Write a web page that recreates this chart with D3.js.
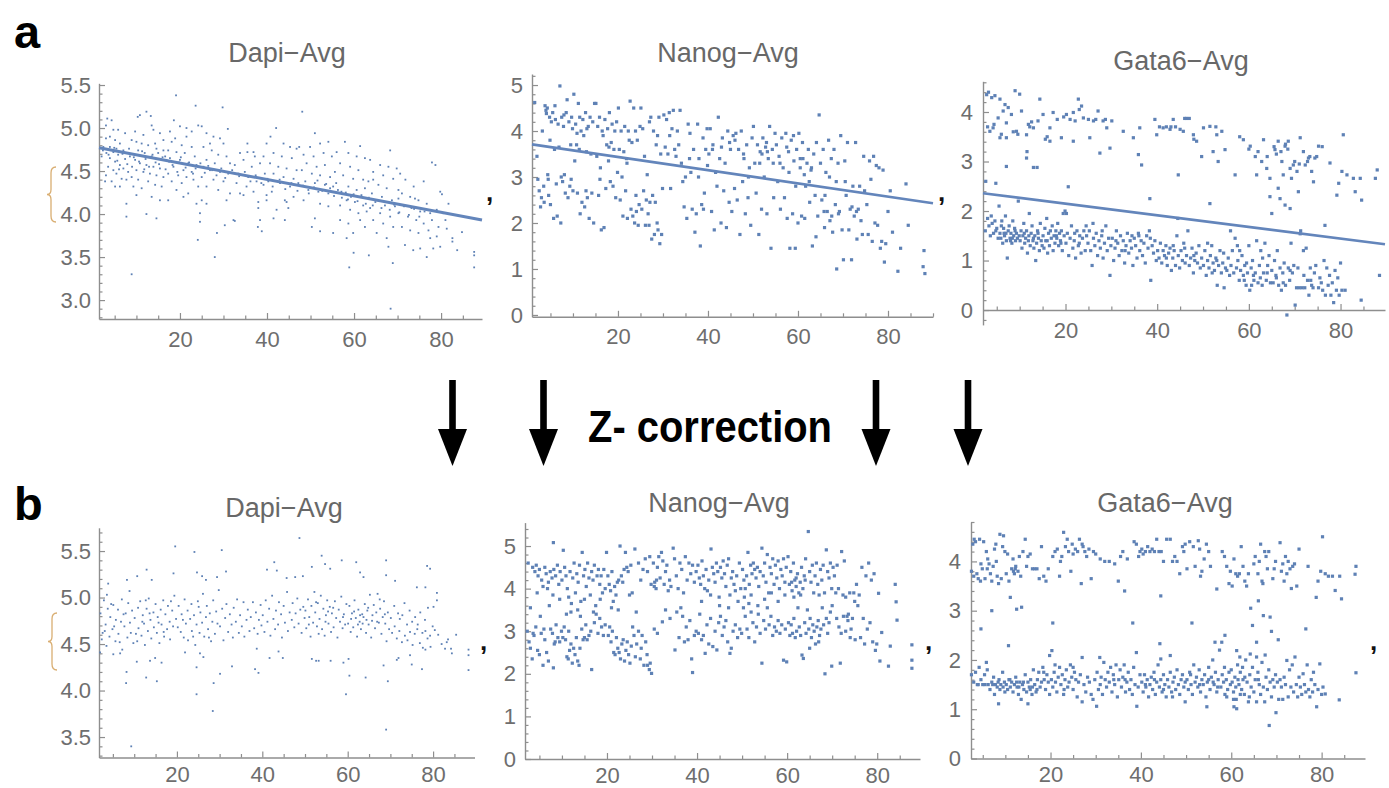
<!DOCTYPE html>
<html><head><meta charset="utf-8">
<script src="https://cdnjs.cloudflare.com/ajax/libs/d3/7.8.5/d3.min.js"></script>
<style>body{margin:0;background:#fff}svg{display:block;background:#fff}text{font-family:"Liberation Sans",Arial,sans-serif}</style>
</head><body><svg id="c" width="1389" height="788"></svg>
<script>
// ---------- DATA ----------
const panelTitles = ["Dapi\u2212Avg", "Nanog\u2212Avg", "Gata6\u2212Avg"];
const xTickValues = [20, 40, 60, 80];
const yTicksDapiBefore = [3.0, 3.5, 4.0, 4.5, 5.0, 5.5];
const yTicksDapiAfter = [3.5, 4.0, 4.5, 5.0, 5.5];
const yTicksNanog = [0, 1, 2, 3, 4, 5];
const yTicksGata6 = [0, 1, 2, 3, 4];

// linear fits (before correction): [x, y] at both ends
const dapiBeforeFit = [[1.4, 4.77], [89.4, 3.93]];
const nanogBeforeFit = [[0.9, 3.71], [90, 2.43]];
const gata6BeforeFit = [[2, 2.36], [89.7, 1.33]];

const dapiBeforePts = [
[3.3,5.11],[4.3,5.09],[3.0,5.03],[4.7,4.98],[5.8,4.98],[3.9,4.90],[3.0,4.88],[5.1,4.86],[6.2,4.82],[3.9,4.78],[2.4,4.78],[5.4,4.76],[7.0,4.74],[4.7,4.72],[3.1,4.71],[5.8,4.69],[2.0,4.67],[3.9,4.65],[7.4,4.64],[5.1,4.61],[6.2,4.57],[3.5,4.55],[4.7,4.51],[7.0,4.53],[5.4,4.47],[3.0,4.45],[8.1,4.49],[6.6,4.41],[4.3,4.38],[2.8,4.38],[5.1,4.32],[6.2,4.32],[7.7,4.40],[8.9,4.43],[7.7,4.12],[7.7,3.97],[8.9,3.30],[8.5,4.67],[7.4,4.94],[8.9,4.86],
[10.3,5.13],[10.8,5.15],[12.3,5.19],[13.3,5.14],[13.5,5.03],[9.7,4.96],[11.6,4.92],[13.9,4.98],[15.4,4.94],[16.2,4.86],[10.0,4.84],[11.2,4.82],[12.7,4.80],[14.3,4.82],[14.6,4.76],[10.4,4.74],[11.9,4.71],[13.5,4.67],[15.0,4.71],[16.6,4.67],[9.7,4.63],[10.8,4.59],[12.3,4.57],[13.9,4.55],[15.4,4.53],[10.0,4.51],[11.6,4.49],[13.1,4.47],[14.6,4.45],[16.2,4.43],[10.4,4.40],[12.7,4.38],[14.3,4.34],[9.3,4.32],[15.8,4.32],[10.0,4.22],[13.5,4.20],[15.4,4.16],[12.3,4.0],[14.6,3.95],[11.2,4.30],[16.2,4.74],[16.9,4.63],
[18.6,5.09],[20.0,5.02],[19.1,5.38],[24.2,5.03],[23.6,5.26],[21.5,4.90],[18.1,4.84],[20.4,4.80],[22.7,4.78],[17.3,4.74],[19.2,4.72],[21.1,4.71],[23.4,4.67],[17.7,4.65],[20.0,4.63],[21.9,4.59],[23.8,4.57],[18.5,4.55],[20.8,4.51],[22.7,4.49],[17.3,4.47],[19.6,4.45],[21.5,4.43],[24.2,4.55],[18.1,4.38],[20.4,4.36],[23.1,4.40],[19.2,4.28],[21.9,4.24],[24.2,4.32],[17.3,4.16],[20.8,4.20],[23.8,4.12],[22.7,4.96],[21.5,5.0],[17.7,4.96],[18.9,4.88],
[25.0,5.02],[29.8,5.24],[31.0,4.99],[26.1,4.94],[27.7,4.90],[29.2,4.88],[30.0,4.82],[25.4,4.78],[27.3,4.74],[28.8,4.69],[30.7,4.67],[26.1,4.63],[28.0,4.59],[31.5,4.59],[25.4,4.55],[26.9,4.51],[29.2,4.49],[31.1,4.47],[25.0,4.43],[27.7,4.40],[30.0,4.38],[26.1,4.32],[28.8,4.28],[31.5,4.24],[25.0,4.16],[26.1,4.12],[30.7,4.16],[24.6,4.01],[24.1,3.70],[28.0,3.50],[28.5,3.78],[24.6,3.91],[30.3,3.87],[32.3,3.93],[26.9,4.82],
[33.8,4.71],[35.5,4.82],[36.9,4.72],[39.2,4.67],[32.6,4.57],[34.6,4.63],[36.5,4.55],[38.4,4.59],[33.4,4.47],[35.7,4.43],[37.6,4.38],[39.5,4.47],[33.0,4.36],[35.3,4.32],[36.9,4.26],[39.2,4.34],[34.6,4.22],[38.0,4.14],[39.9,4.16],[33.8,4.24],[38.0,4.07],[38.4,3.93],[37.9,3.85],[38.8,3.80],[32.6,3.92],[35.5,4.72],[37.2,4.67],
[42.1,5.0],[40.8,4.90],[39.9,4.82],[43.8,4.82],[45.3,4.78],[46.8,4.76],[41.5,4.71],[43.4,4.67],[45.7,4.65],[40.7,4.59],[42.6,4.55],[44.5,4.53],[46.8,4.51],[41.5,4.47],[43.8,4.43],[46.1,4.41],[40.3,4.38],[43.0,4.36],[45.3,4.32],[47.2,4.36],[41.1,4.26],[44.1,4.16],[46.1,4.20],[44.5,4.14],[42.2,4.05],[44.9,4.07],[41.5,3.95],[44.1,3.93],[39.9,4.22],[47.4,4.78],
[48.1,5.19],[51.0,4.94],[49.9,4.78],[52.2,4.82],[54.1,4.84],[48.4,4.69],[50.7,4.67],[53.0,4.71],[54.9,4.67],[49.1,4.59],[51.4,4.55],[53.3,4.57],[48.0,4.51],[50.3,4.47],[52.2,4.45],[54.5,4.43],[48.8,4.38],[51.0,4.36],[53.3,4.34],[55.2,4.32],[49.5,4.28],[51.8,4.26],[54.1,4.24],[48.4,4.16],[52.2,4.12],[50.3,3.85],[52.2,3.80],[51.0,3.95],[55.2,3.78],[54.1,4.09],
[57.9,4.84],[61.4,4.79],[56.0,4.72],[58.7,4.71],[60.6,4.67],[62.5,4.65],[56.8,4.59],[59.1,4.55],[61.0,4.51],[55.6,4.49],[57.5,4.45],[59.8,4.41],[62.1,4.40],[55.9,4.36],[58.7,4.32],[60.6,4.28],[62.5,4.30],[57.1,4.26],[59.5,4.22],[61.4,4.20],[58.3,4.16],[60.2,4.14],[56.8,4.10],[62.1,4.10],[59.1,4.05],[61.0,4.01],[56.8,3.93],[58.7,3.89],[61.4,3.93],[62.5,3.85],[59.8,3.78],[58.3,3.72],[58.9,3.38],[59.9,3.55],[62.9,4.03],
[68.3,4.74],[63.7,4.63],[66.0,4.57],[67.9,4.55],[69.8,4.53],[64.4,4.49],[66.7,4.45],[69.0,4.41],[63.3,4.38],[65.6,4.34],[67.5,4.30],[70.2,4.28],[64.1,4.24],[66.4,4.20],[68.7,4.16],[64.9,4.14],[67.1,4.10],[69.4,4.09],[63.7,4.07],[66.0,4.01],[68.3,3.97],[70.2,4.01],[64.4,3.93],[66.7,3.89],[69.0,3.85],[65.2,3.78],[67.5,3.72],[67.9,3.62],[63.4,3.52],[68.9,3.43],[68.4,2.90],[70.2,4.18],[64.4,4.40],
[70.6,4.47],[71.8,4.40],[73.7,4.32],[76.0,4.38],[71.0,4.24],[72.9,4.20],[74.8,4.16],[76.7,4.12],[71.4,4.10],[73.2,4.07],[75.2,4.03],[77.5,4.01],[72.4,3.97],[74.3,3.93],[76.0,3.89],[77.9,3.93],[71.0,3.85],[72.9,3.81],[74.8,3.78],[77.1,3.81],[71.7,3.64],[73.6,3.58],[75.2,3.60],[76.7,3.50],[78.2,3.60],[77.9,4.60],[74.0,4.18],[77.5,3.72],
[78.7,4.57],[79.8,4.26],[80.2,4.23],[79.0,4.05],[80.5,4.01],[79.4,3.85],[81.3,3.83],[79.0,3.74],[79.8,3.62],[82.6,3.72],[82.6,3.68],[84.8,3.79],[83.7,3.58],[87.6,3.56],[87.6,3.52],[87.6,3.38],[81.7,4.12],[81.0,3.93],
[2.3,4.74],[3.6,4.69],[4.9,4.77],[5.6,4.62],[6.8,4.7],[7.9,4.58],[8.3,4.76],[9.4,4.66],[10.6,4.61],[11.3,4.73],[12.1,4.64],[12.9,4.55],[13.7,4.69],[14.4,4.6],[15.2,4.58],[16.0,4.66],[16.7,4.52],[17.5,4.61],[18.3,4.57],[19.4,4.49],[20.2,4.66],[21.3,4.54],[22.1,4.6],[23.0,4.47],[23.6,4.53],[24.7,4.59],[25.7,4.48],[26.5,4.56],[27.4,4.51],[28.4,4.45],[29.5,4.53],[30.4,4.42],[11.8,4.52],[9.0,4.55],[6.0,4.52],[19.8,4.6],
[32.0,4.51],[33.6,4.44],[34.9,4.49],[36.2,4.38],[37.4,4.45],[38.7,4.36],[40.1,4.41],[41.3,4.32],[42.9,4.4],[44.2,4.29],[45.6,4.36],[47.0,4.27],[48.3,4.33],[49.6,4.24],
[50.8,4.31],[51.6,4.39],[52.7,4.27],[53.6,4.35],[54.5,4.3],[55.4,4.21],[56.3,4.28],[57.2,4.19],[58.1,4.25],[58.6,4.17],[59.3,4.2],[59.9,4.23],[60.8,4.15],[61.7,4.22],[62.7,4.12],[63.4,4.19],[64.3,4.1],[65.4,4.16],[66.3,4.07],[67.3,4.14],[68.2,4.05],[69.2,4.11],[70.4,4.02],[71.5,4.09],[72.6,3.99],[73.8,4.06],[75.0,3.97],[76.2,4.03]
];

const nanogBeforePts = [
[1.5,4.62],[2.0,3.45],[2.2,2.95],[2.5,2.7],[2.8,2.35],[3.0,2.55],[3.2,4.0],[3.5,2.8],[3.8,4.55],[4.0,4.45],[4.1,4.38],[4.3,4.5],[4.5,2.95],[4.6,2.6],[4.8,4.3],[4.9,3.8],[5.0,2.4],[5.2,4.2],[4.4,3.05],[3.6,2.45],
[5.5,4.4],[5.7,2.1],[5.9,3.6],[6.1,4.25],[6.3,2.85],[6.5,2.15],[6.7,4.15],[6.9,3.65],[7.1,4.98],[7.3,2.0],[7.5,4.3],[7.7,2.9],[7.9,4.1],[8.1,3.05],[8.3,2.65],[8.5,4.4],[8.7,4.68],[8.9,2.55],[9.1,4.2],[9.3,2.8],[9.5,3.7],[9.7,4.3],[9.9,4.05],[10.0,2.7],[8.0,4.35],[6.0,4.55],[9.6,2.95],[7.4,3.0],
[10.2,4.8],[10.4,3.35],[10.6,4.15],[10.8,3.7],[11.0,2.65],[11.2,4.6],[11.4,3.6],[11.6,2.2],[11.8,4.0],[12.0,2.45],[12.2,4.25],[12.4,3.9],[12.6,2.35],[12.8,4.4],[13.0,3.55],[13.2,2.55],[13.4,4.1],[13.6,2.1],[13.8,4.3],[14.0,3.5],[14.2,2.65],[14.4,4.2],[14.6,2.0],[14.8,4.6],[11.5,4.3],[12.9,2.7],[10.9,3.95],[13.1,4.05],
[15.1,4.6],[15.3,3.45],[15.5,4.1],[15.7,2.6],[15.9,4.3],[16.1,3.2],[16.3,1.85],[16.5,4.0],[16.7,3.9],[16.9,1.9],[17.1,4.25],[17.3,2.75],[17.5,3.7],[17.7,4.05],[17.9,3.35],[18.1,4.4],[18.3,2.9],[18.5,3.75],[18.7,4.15],[18.9,2.8],[19.1,3.6],[19.3,4.0],[19.5,2.55],[19.7,4.2],[19.9,3.1],[16.0,2.95],[18.0,3.65],
[20.1,4.5],[20.3,3.6],[20.5,2.5],[20.7,4.0],[20.9,3.0],[21.1,2.15],[21.3,3.55],[21.5,4.1],[21.7,2.7],[21.9,3.4],[22.1,2.1],[22.3,4.0],[22.5,3.8],[22.7,4.65],[22.9,2.3],[23.1,3.75],[23.3,2.15],[23.5,4.5],[23.7,2.0],[23.9,4.0],[24.1,2.25],[24.3,3.8],[24.5,1.95],[24.7,2.4],[24.9,4.1],[22.0,3.3],[24.0,2.6],
[25.1,4.5],[25.3,2.3],[25.5,4.05],[25.7,2.7],[25.9,3.45],[26.1,1.95],[26.3,2.5],[26.5,3.05],[26.7,2.2],[26.9,1.95],[27.1,2.45],[27.3,4.3],[27.5,1.65],[27.7,2.6],[27.9,4.0],[28.1,1.75],[28.3,2.45],[28.5,3.7],[28.7,2.0],[28.9,1.85],[29.1,4.3],[29.3,1.55],[29.5,3.5],[29.7,1.75],[29.9,2.75],[27.0,4.2],[28.8,3.9],
[30.2,4.35],[30.5,3.65],[30.8,4.25],[31.1,3.5],[31.4,4.4],[31.7,2.75],[32.0,4.05],[32.3,4.45],[32.6,3.6],[32.9,3.45],[33.2,4.0],[33.5,3.7],[33.8,4.45],[34.1,3.3],[34.4,2.9],[34.7,2.35],[35.0,3.0],[35.3,2.1],[35.6,4.15],[35.9,3.4],[31.5,3.9],
[36.2,3.1],[36.5,2.3],[36.8,3.6],[37.1,1.8],[37.4,2.2],[37.7,4.15],[38.0,3.4],[38.3,1.5],[38.6,2.4],[38.9,3.85],[39.2,2.65],[39.5,3.6],[39.8,4.05],[37.9,3.0],[39.0,2.3],[39.9,3.25],[36.0,3.95],
[40.2,3.5],[40.5,4.05],[40.8,2.25],[41.1,3.7],[41.4,1.85],[41.7,3.1],[42.0,2.8],[42.3,4.3],[42.6,3.4],[42.9,2.0],[43.2,3.85],[43.5,2.7],[43.8,3.3],[44.1,1.9],[44.4,4.0],[44.7,2.45],[45.0,3.6],[45.3,2.25],[45.6,3.9],[45.9,2.75],[41.0,3.6],[43.0,3.65],[44.8,3.75],
[46.2,3.95],[46.5,2.5],[46.8,3.6],[47.1,1.75],[47.4,4.0],[47.7,2.9],[48.0,3.4],[48.3,2.2],[48.6,3.7],[48.9,2.55],[49.2,3.2],[49.5,1.95],[49.8,3.85],[47.9,3.5],[49.0,3.0],[46.0,3.8],
[50.1,4.1],[50.4,3.3],[50.7,2.65],[51.0,3.7],[51.3,1.75],[51.6,3.55],[51.9,2.3],[52.2,3.85],[52.5,3.0],[52.8,3.65],[53.1,2.2],[53.4,3.4],[53.7,4.1],[54.0,1.45],[54.3,3.6],[54.6,2.55],[54.9,3.95],[52.0,3.5],[53.0,3.75],[54.5,3.3],[51.5,3.3],[53.2,3.55],
[55.2,3.7],[55.5,2.9],[55.8,3.45],[56.1,2.3],[56.4,3.85],[56.7,3.2],[57.0,2.55],[57.3,3.95],[57.6,2.1],[57.9,3.55],[58.2,1.45],[58.5,3.8],[58.8,2.2],[59.1,3.35],[59.4,1.45],[59.7,3.6],[60.0,2.0],[56.0,3.3],[58.0,3.1],[59.0,3.9],[57.5,3.65],[59.5,2.8],
[60.2,3.95],[60.5,3.2],[60.8,2.15],[61.1,3.4],[61.4,3.05],[61.7,2.8],[62.0,3.3],[62.3,3.6],[62.6,2.45],[62.9,3.15],[63.2,1.5],[63.5,3.5],[63.8,2.6],[64.1,3.75],[64.4,2.15],[64.7,4.35],[65.0,3.3],[61.0,3.75],[62.5,2.9],[63.0,3.2],[64.0,1.7],[61.5,2.1],[60.5,3.4],
[65.3,2.5],[65.6,3.6],[65.9,1.9],[66.2,3.1],[66.5,2.25],[66.8,3.8],[67.1,2.05],[67.4,3.4],[67.7,1.8],[68.0,3.6],[68.3,2.4],[68.6,1.0],[68.9,3.3],[69.2,2.25],[69.5,3.9],[69.8,1.85],[66.0,2.6],[67.0,3.0],[68.5,2.9],[69.0,2.2],[67.5,2.15],[65.8,2.25],
[70.1,1.2],[70.4,3.35],[70.7,2.6],[71.0,3.75],[71.3,1.85],[71.6,2.3],[71.9,1.2],[72.2,2.8],[72.5,2.15],[72.8,3.75],[73.1,1.65],[73.4,2.3],[73.7,2.8],[74.0,2.05],[74.3,1.75],[74.6,3.45],[70.5,2.9],[72.0,2.35],[73.0,2.25],[74.8,2.7],
[75.3,2.4],[75.6,1.75],[75.9,3.35],[76.2,2.95],[76.5,1.6],[76.8,3.45],[77.1,2.0],[77.4,3.25],[77.7,1.95],[78.0,3.2],[78.3,1.45],[78.6,1.6],[78.9,3.15],[79.2,1.15],[79.5,1.55],[80.0,2.25],
[80.5,2.7],[81.0,1.8],[82.2,0.95],[82.8,1.45],[84.0,2.85],[84.5,1.95],[87.8,1.05],[88.0,1.4],[88.2,0.9]
];

const gata6BeforePts = [
[3.9,4.29],[4.6,4.33],[5.7,4.26],[5.3,3.88],[4.2,3.68],[3.5,3.61],[6.4,4.02],[7.5,4.09],[8.2,3.95],[7.1,3.78],[5.7,3.48],[7.1,3.48],[9.0,4.43],[10.0,4.36],[9.3,3.61],[10.4,4.02],[11.5,3.54],[11.9,3.75],[13.0,3.68],[14.0,3.82],[15.1,3.95],[14.4,4.26],[11.6,3.20],[11.5,3.07],[13.0,2.88],[13.8,2.88],[7.1,2.90],[4.8,2.56],[16.6,3.68],[16.6,3.41],[17.3,3.99],[19.1,3.48],[20.2,3.95],[21.7,3.99],[22.8,4.26],[23.5,4.12],[23.9,3.88],[22.1,3.82],[25.3,3.48],[26.1,3.82],[27.1,4.02],[28.2,3.82],[29.0,3.68],[30.1,3.82],[27.5,3.17],[29.7,3.27],[20.6,2.49],[20.2,1.95],[21.7,3.41],
[32.6,3.61],[34.8,3.48],[36.2,3.68],[35.9,3.14],[36.6,2.93],[38.4,2.25],[39.5,3.85],[39.9,3.54],[41.3,3.68],[42.8,3.65],[43.5,3.85],[45.0,3.65],[46.4,3.87],[45.7,3.61],[44.6,2.73],[47.9,3.54],[48.6,3.41],[50.1,3.68],[51.5,3.71],[49.7,3.10],[52.2,3.20],[53.0,3.54],[54.1,3.61],[54.8,3.24],[53.3,3.0],[51.5,2.15],[57.0,2.73],[58.8,3.44],[60.3,3.31],[61.4,3.10],[61.7,2.73],[63.2,3.44],[62.8,3.0],[63.9,2.86],[64.6,2.66],[64.6,2.29],[65.0,1.95],[65.7,3.24],[66.4,3.41],[67.2,3.0],[67.9,3.31],[68.6,3.41],[69.0,2.86],[69.3,2.66],[67.5,2.73],[66.4,2.46],[66.8,2.25],[67.9,2.12],[69.0,2.05],[69.7,2.93],[70.5,2.80],[71.2,3.48],[71.9,3.20],[70.8,2.39],[72.3,2.93],[73.0,3.07],[73.7,2.80],[74.1,2.59],[74.4,3.07],[75.2,3.31],[77.7,2.97],[79.2,2.32],[79.6,2.56],[80.3,2.80],[80.6,3.54],[81.4,2.73],[82.8,2.66],[83.2,2.39],[84.3,2.66],[84.6,2.22],[87.6,2.66],[88.0,2.83],[76.6,1.71],[71.2,1.54],
[2.8,4.35],[3.2,4.4],[3.0,3.7],[4.4,3.75],[6.0,3.55],[6.8,4.15],[8.6,3.6],[9.6,3.55],[12.2,3.7],[12.6,3.8],[15.6,3.45],[16.0,3.5],[18.2,3.85],[19.6,3.9],[21.0,3.85],[23.0,4.05],[25.0,3.85],[26.6,3.85],[28.7,3.85],[40.5,3.7],[42.0,3.7],[43.0,3.7],[44.0,3.7],[46.0,3.87],[47.0,3.87],[48.0,3.45],[52.8,3.7],[58.0,3.5],[60.0,3.25],[62.0,3.2],[64.0,3.1],[65.5,3.3],[66.0,3.15],[67.0,3.2],[68.0,3.35],[68.5,3.25],[70.0,3.0],[71.0,2.95],[72.8,3.0],[73.3,3.1],[74.8,3.1],[76.0,3.3],[2.6,2.6],
[2.5,1.6],[3.0,1.85],[3.3,1.7],[3.6,1.5],[4.0,1.75],[4.3,1.55],[4.6,1.8],[5.0,1.65],[5.3,1.45],[4.8,1.6],[3.8,1.9],
[5.5,2.1],[5.7,1.55],[5.9,1.45],[6.1,1.8],[6.3,1.35],[6.5,1.65],[6.7,1.5],[6.9,1.9],[7.1,1.4],[7.3,1.05],[7.5,1.6],[7.7,1.7],[7.9,1.45],[8.1,1.55],[8.3,1.35],[8.5,1.8],[8.7,1.5],[8.9,1.65],[9.1,1.4],[9.3,1.55],[9.5,1.45],[9.7,2.2],[9.9,1.5],[6.0,1.7],[7.0,1.55],[8.0,1.4],[9.0,1.6],[8.4,1.45],[6.6,1.55],
[10.1,1.4],[10.3,1.6],[10.5,1.25],[10.7,1.5],[10.9,1.75],[11.1,1.35],[11.3,1.45],[11.5,1.6],[11.7,1.15],[11.9,1.4],[12.1,1.95],[12.3,1.3],[12.5,1.55],[12.7,1.7],[12.9,1.4],[13.1,1.25],[13.3,1.5],[13.5,1.0],[13.7,1.35],[13.9,1.6],[14.1,1.45],[14.3,1.2],[14.5,1.75],[14.7,1.4],[14.9,1.3],[11.0,1.55],[12.0,1.5],[13.0,1.45],[14.0,1.55],
[15.1,1.5],[15.3,1.25],[15.5,1.65],[15.7,1.4],[15.9,1.85],[16.1,1.15],[16.3,1.55],[16.5,1.3],[16.7,1.6],[16.9,1.45],[17.1,1.7],[17.3,1.2],[17.5,1.5],[17.7,1.35],[17.9,1.6],[18.1,1.45],[18.3,1.75],[18.5,1.3],[18.7,1.55],[18.9,1.4],[19.1,1.6],[19.3,1.2],[19.5,1.95],[19.7,1.5],[19.9,2.0],[16.0,1.4],[18.0,1.5],[19.0,1.35],
[20.1,1.35],[20.4,1.55],[20.7,1.1],[21.0,1.45],[21.3,1.7],[21.6,1.25],[21.9,1.4],[22.2,1.05],[22.5,1.6],[22.8,1.3],[23.1,1.5],[23.4,1.15],[23.7,1.45],[24.0,1.6],[24.3,1.2],[24.6,1.5],[24.9,1.35],[22.0,1.55],[23.0,1.35],[24.5,1.7],
[25.2,1.6],[25.5,1.2],[25.8,0.9],[26.1,1.45],[26.4,1.3],[26.7,1.55],[27.0,1.1],[27.3,1.4],[27.6,1.25],[27.9,1.5],[28.2,1.05],[28.5,1.35],[28.8,1.7],[29.1,1.2],[29.4,1.45],[29.7,0.7],[29.9,1.3],[26.0,1.75],[28.0,1.6],
[30.2,1.45],[30.5,1.0],[30.8,1.25],[31.1,1.6],[31.4,1.35],[31.7,1.1],[32.0,1.5],[32.3,1.2],[32.6,1.4],[32.9,0.95],[33.2,1.3],[33.5,1.55],[33.8,1.15],[34.1,1.4],[34.4,1.25],[34.7,0.9],[35.0,1.45],[31.0,1.4],[33.0,1.2],[34.5,1.5],
[35.3,1.3],[35.6,1.05],[35.9,1.55],[36.2,1.2],[36.5,1.4],[36.8,1.1],[37.1,1.35],[37.4,0.95],[37.7,1.5],[38.0,1.25],[38.3,1.6],[38.6,0.6],[38.9,1.3],[39.2,1.15],[39.5,1.4],[39.8,1.0],[36.0,1.5],[38.5,1.45],
[40.1,1.2],[40.4,1.05],[40.7,1.35],[41.0,0.95],[41.3,1.2],[41.6,1.1],[41.9,1.3],[42.2,0.9],[42.5,1.15],[42.8,1.25],[43.1,0.8],[43.4,1.05],[43.7,1.2],[44.0,0.9],[44.3,1.5],[44.6,1.1],[44.9,0.85],[42.0,1.05],[43.5,1.3],[44.5,1.85],
[45.2,1.2],[45.5,1.0],[45.8,1.35],[46.1,0.95],[46.4,1.1],[46.7,1.6],[47.0,0.9],[47.3,1.05],[47.6,1.25],[47.9,0.75],[48.2,1.0],[48.5,1.15],[48.8,0.95],[49.1,1.3],[49.4,0.85],[49.7,1.05],[46.0,1.25],[48.0,1.1],
[50.1,0.9],[50.4,1.2],[50.7,0.7],[51.0,1.0],[51.3,0.85],[51.6,1.1],[51.9,1.3],[52.2,0.95],[52.5,0.8],[52.8,1.05],[53.1,0.5],[53.4,0.9],[53.7,1.2],[54.0,0.75],[54.3,0.95],[54.6,0.45],[54.9,0.85],[51.0,1.35],[52.0,0.75],[53.0,1.0],[54.5,1.15],
[55.2,0.8],[55.5,1.05],[55.8,0.7],[56.1,0.9],[56.4,1.2],[56.7,0.75],[57.0,1.45],[57.3,0.85],[57.6,1.0],[57.9,0.6],[58.2,0.8],[58.5,1.1],[58.8,0.7],[59.1,0.9],[59.4,0.5],[59.7,0.75],[60.0,1.3],[56.0,1.6],[57.5,1.3],[58.0,1.2],[59.0,0.6],[59.5,0.95],
[60.2,0.4],[60.5,0.85],[60.8,1.0],[61.1,0.6],[61.4,0.75],[61.7,1.4],[62.0,0.55],[62.3,0.9],[62.6,1.2],[62.9,0.5],[63.2,0.75],[63.5,1.35],[63.8,0.6],[64.1,0.9],[64.4,1.1],[64.7,0.55],[65.0,0.8],[61.0,0.7],[62.5,0.65],[63.0,1.05],[64.0,0.75],[60.6,0.5],
[65.3,0.55],[65.6,1.0],[65.9,0.7],[66.2,1.2],[66.5,0.5],[66.8,0.85],[67.1,0.4],[67.4,0.75],[67.7,0.95],[68.0,0.5],[68.3,-0.1],[68.6,0.85],[68.9,0.6],[69.2,1.35],[69.5,0.75],[69.8,0.9],[66.0,0.65],[67.5,0.55],[69.0,0.8],
[70.1,0.1],[70.4,0.45],[70.7,0.85],[71.0,0.45],[71.3,1.6],[71.6,0.45],[71.9,1.2],[72.2,0.45],[72.5,1.25],[72.8,0.6],[73.1,0.3],[73.4,0.85],[73.7,0.5],[74.0,0.45],[74.3,0.75],[74.6,0.9],[72.0,0.7],[73.5,0.6],
[75.2,0.45],[75.5,0.65],[75.8,0.55],[76.1,0.4],[76.4,1.0],[76.7,0.3],[77.0,0.85],[77.3,0.5],[77.6,0.7],[77.9,0.3],[78.2,0.55],[78.5,0.15],[78.8,0.8],[79.1,0.4],[79.4,0.65],[79.7,0.3],[80.0,0.95],[80.3,0.4],
[81.0,0.4],[84.5,0.2],[88.5,0.7]
];

const dapiAfterPts = [
[19.6,5.55],[24.1,5.49],[30.5,5.51],[48.7,5.64],[9.3,3.40],[28.4,3.78],[69.0,3.58],[59.6,3.96],[24.6,3.96],[8.1,4.08],[8.2,4.20],[69.4,4.10],[60.4,4.16],[64.2,4.14],[88.3,4.22],[88.3,4.38],[88.3,4.44],[85.4,4.60],[84.4,4.40],[83.2,4.52],[78.6,5.34],[79.3,5.31],[76.2,5.11],[78.2,5.11],[80.9,5.05],[80.9,4.97],[80.1,4.90],[69.0,5.40],[62.0,5.38],[58.6,5.40],[53.9,5.45],[51.6,5.33],[54.7,5.36],[55.9,5.31],[42.8,5.38],[41.1,5.30],[43.4,5.29],[49.5,5.23],[47.7,5.22],[45.7,5.21],[62.9,5.27],[63.7,5.22],[69.0,5.24],[71.1,5.18],[12.9,5.30],[19.2,5.26],[24.7,5.27],[25.9,5.23],[26.8,5.19],[29.4,5.22],[31.5,5.28],[3.9,5.15],[10.7,5.23],[14.1,5.19],[8.3,5.19],[3.6,5.03],
[2.0,4.41],[5.1,4.39],[6.7,4.40],[10.6,4.31],[12.8,4.14],[15.3,4.10],[13.7,4.32],[16.4,4.30],[14.9,4.35],[21.9,4.41],[24.6,4.25],[25.4,4.40],[26.2,4.36],[28.6,4.08],[30.1,4.18],[32.9,4.26],[38.7,4.45],[38.3,4.23],[39.1,4.19],[41.7,4.35],[43.8,4.42],[44.8,4.35],[51.6,4.34],[52.6,4.32],[53.2,4.32],[56.0,4.32],[59.0,4.30],[60.2,4.34],[68.4,4.27],[71.5,4.33],[71.9,4.35],[74.6,4.38],[75.0,4.28],[77.4,4.23],[78.2,4.44],
[2.1,4.83],[2.6,4.62],[2.9,4.97],[3.3,4.71],[3.5,4.48],[3.8,4.88],[4.2,4.58],[4.4,4.79],[4.9,4.66],[5.1,4.92],[5.6,4.53],[5.7,4.76],[6.2,4.87],[6.3,4.61],[6.9,4.74],[7.1,4.98],[7.2,4.44],[7.7,4.69],[8.0,4.83],[8.4,4.57],[8.6,4.94],[9.0,4.73],[9.2,4.62],[9.5,4.86],[9.8,4.51],[2.4,4.55],[4.6,4.93],[5.3,4.69],[6.6,4.52],[8.9,5.07],[7.5,4.82],[3.1,4.64],
[10.1,4.78],[10.4,4.61],[10.9,4.89],[11.0,4.67],[11.4,4.96],[11.7,4.59],[12.0,4.81],[12.3,4.72],[12.5,4.49],[12.9,4.88],[13.2,4.64],[13.4,4.99],[13.8,4.76],[14.0,4.56],[14.5,4.84],[14.6,4.68],[15.0,4.93],[15.3,4.62],[15.5,4.79],[15.9,4.51],[16.2,4.87],[16.4,4.71],[16.8,4.97],[17.0,4.58],[17.3,4.82],[17.7,4.66],[17.9,4.91],[18.3,4.74],[18.4,4.55],[18.9,4.86],[19.1,4.69],[19.4,5.02],[19.8,4.77],[10.7,4.53],[11.9,4.74],[13.6,4.83],[15.7,4.73],[16.9,4.63],[18.6,4.96],[12.7,4.97],
[20.2,4.68],[20.4,4.91],[20.9,4.63],[21.1,4.82],[21.6,4.57],[21.8,4.98],[22.1,4.72],[22.5,4.86],[22.6,4.54],[23.1,4.77],[23.4,4.93],[23.5,4.64],[24.0,4.81],[24.3,4.49],[24.6,4.71],[24.9,4.96],[25.3,4.62],[25.5,4.84],[25.9,4.73],[26.1,5.04],[26.4,4.58],[26.8,4.79],[27.0,4.91],[27.3,4.66],[27.7,4.83],[28.0,4.53],[28.3,4.74],[28.5,4.97],[28.9,4.61],[29.2,4.85],[29.5,4.72],[29.8,5.08],[21.4,4.76],[23.8,4.58],[25.1,4.9],[27.5,4.57],
[30.1,4.69],[30.6,4.88],[30.9,4.54],[31.3,4.78],[31.6,4.93],[32.0,4.63],[32.4,4.82],[32.8,4.71],[33.1,4.57],[33.3,4.89],[33.8,4.74],[34.1,4.98],[34.5,4.62],[34.8,4.81],[35.2,4.69],[35.6,4.95],[35.8,4.58],[36.3,4.76],[36.6,4.87],[37.0,4.64],[37.3,4.79],[37.8,4.95],[38.1,4.67],[38.5,4.84],[38.9,4.61],[39.2,4.76],[39.6,4.92],[39.8,4.7],
[40.1,4.81],[40.5,4.63],[40.8,4.97],[41.2,4.74],[41.6,4.88],[41.9,4.59],[42.3,5.02],[42.6,4.77],[43.0,4.66],[43.2,4.86],[43.7,4.71],[43.9,4.95],[44.4,4.82],[44.6,4.57],[45.0,4.91],[45.3,4.73],[45.8,5.06],[46.0,4.64],[46.4,4.84],[46.9,4.76],[47.1,4.94],[47.5,4.68],[47.8,4.83],[48.2,4.99],[48.5,4.72],[48.9,4.87],[49.2,4.62],[49.6,4.9],[49.9,4.78],
[50.1,4.86],[50.3,4.67],[50.7,4.98],[51.0,4.79],[51.3,4.58],[51.5,4.91],[51.9,4.73],[52.2,5.06],[52.4,4.84],[52.8,4.69],[53.0,4.94],[53.4,4.77],[53.7,5.02],[54.0,4.66],[54.3,4.88],[54.6,4.59],[54.9,4.81],[55.2,4.97],[55.5,4.72],[55.8,4.9],[56.1,4.63],[56.3,4.83],[56.7,4.68],[57.0,4.96],[57.3,4.78],[57.6,4.57],[57.9,4.87],[58.2,4.74],[58.5,5.01],[58.8,4.67],[59.1,4.82],[59.4,4.71],[59.7,4.93],[50.9,4.71],[52.6,4.95],[54.8,4.74],[56.6,4.89],[58.9,4.79],[53.2,4.61],[55.4,4.85],
[60.1,4.72],[60.4,4.91],[60.7,4.63],[61.0,4.83],[61.3,4.68],[61.6,4.97],[61.9,4.78],[62.2,4.58],[62.5,4.87],[62.8,4.74],[63.1,4.66],[63.4,4.82],[63.7,4.79],[64.0,4.93],[64.3,4.62],[64.6,4.86],[64.9,4.71],[65.2,5.03],[65.5,4.57],[65.8,4.81],[66.1,4.92],[66.4,4.67],[66.7,4.84],[67.0,5.04],[67.3,4.73],[67.6,4.88],[67.9,4.61],[68.2,4.79],[68.5,4.96],[68.8,4.72],[69.1,4.53],[69.4,4.84],[69.7,4.66],[60.8,4.77],[62.9,4.81],[64.8,4.89],[66.9,4.74],[68.7,4.82],[62.4,4.71],[64.4,4.76],[61.5,4.85],[63.5,4.72],[65.7,4.75],[67.5,4.98],
[70.1,4.78],[70.4,4.62],[70.9,4.91],[71.0,4.69],[71.5,4.56],[71.8,4.83],[72.1,4.64],[72.2,4.77],[72.7,4.52],[72.8,4.81],[73.3,4.94],[73.4,4.59],[73.9,4.71],[74.0,4.54],[74.5,4.86],[74.6,4.63],[75.1,4.74],[75.2,4.49],[75.7,4.61],[75.8,4.79],[76.3,4.66],[76.4,4.71],[76.9,4.51],[77.0,4.84],[77.5,4.62],[77.6,4.46],[78.1,4.76],[78.2,4.64],[78.7,4.56],[78.8,4.89],[79.3,4.59],[79.4,4.47],[79.9,4.69],
[80.4,4.65],[81.2,4.6],[82.0,4.5],[82.8,4.45],[83.5,4.55],[84.2,4.45]
];

const nanogAfterPts = [
[2.5,4.6],[3.5,4.5],[4.0,4.4],[4.3,4.55],[4.7,4.3],[5.0,4.45],[5.5,4.2],[5.8,4.05],[6.2,4.5],[6.5,4.35],[7.0,4.15],[7.4,4.4],[7.8,4.25],[8.2,4.45],[8.6,4.3],[9.0,4.55],[9.3,4.1],[9.6,4.4],[10.0,4.2],[6.8,4.0],[8.0,3.85],[9.5,3.75],[3.0,3.55],[4.5,3.9],[7.2,3.6],[5.2,3.35],[8.1,5.08],
[2.3,3.0],[2.7,2.75],[3.0,2.6],[3.4,2.35],[3.8,2.9],[4.2,3.1],[4.6,2.55],[5.0,2.45],[5.4,2.95],[5.8,2.2],[6.2,2.8],[6.6,2.5],[7.0,2.3],[7.5,3.05],[7.9,2.95],[8.3,2.7],[8.7,3.15],[9.1,2.85],[9.5,2.75],[9.9,3.0],[3.6,2.95],[6.0,3.05],[8.5,2.75],[8.1,2.14],
[10.3,4.9],[10.6,4.5],[10.9,4.3],[11.2,4.0],[11.5,3.8],[11.8,4.4],[12.1,3.65],[12.4,4.25],[12.7,4.6],[13.0,3.9],[13.3,4.35],[13.6,4.15],[13.9,4.55],[14.2,3.7],[14.5,4.85],[14.8,4.3],[15.1,4.45],[15.4,4.05],[15.7,4.6],[16.0,4.25],[16.3,3.85],[16.6,4.4],[16.9,4.2],[17.2,4.55],[17.5,3.6],[17.8,4.3],[18.1,4.45],[18.4,4.1],[18.7,4.3],[19.0,3.9],[19.3,4.45],[19.6,4.0],[19.9,4.85],[11.0,3.4],[12.0,3.45],[13.5,3.5],[15.0,3.75],[17.0,3.45],[18.5,3.75],
[10.2,2.85],[10.5,3.1],[10.8,2.8],[11.1,2.4],[11.4,2.35],[11.7,2.55],[12.0,2.7],[12.3,2.25],[12.6,2.6],[12.9,2.45],[13.2,2.85],[13.5,2.3],[13.8,2.2],[14.1,3.35],[14.4,3.05],[14.7,2.8],[15.0,2.85],[15.3,3.15],[15.6,2.8],[16.0,2.9],[16.4,3.0],[16.6,2.1],[17.2,3.2],[17.6,3.4],[18.0,2.95],[18.4,3.3],[18.8,3.1],[19.2,2.9],[19.6,3.15],[11.5,3.0],[14.0,2.6],
[20.2,4.3],[20.5,4.1],[20.8,3.95],[21.1,4.4],[21.4,3.7],[21.7,4.05],[22.0,3.85],[22.3,4.15],[22.6,4.2],[22.9,5.0],[23.2,4.3],[23.5,4.15],[23.8,4.45],[24.1,4.85],[24.4,4.5],[24.7,4.4],[25.0,3.85],[25.3,4.55],[25.6,3.9],[26.2,4.93],[26.5,3.45],[27.0,4.6],[27.5,4.2],[28.0,4.45],[28.5,4.7],[29.0,4.4],[29.5,4.75],[29.8,4.1],[21.0,3.55],[22.5,3.5],
[20.3,2.9],[20.6,3.1],[20.9,2.75],[21.2,3.0],[21.5,2.5],[21.8,2.45],[22.1,2.85],[22.4,2.6],[22.7,2.5],[23.0,2.35],[23.3,2.7],[23.6,2.8],[23.9,2.3],[24.2,2.55],[24.5,2.75],[24.8,2.45],[25.1,2.25],[25.4,2.65],[25.7,3.1],[26.0,2.9],[26.3,2.4],[26.6,2.7],[27.0,3.0],[27.4,2.35],[27.8,2.9],[28.2,2.2],[28.6,2.75],[29.0,2.2],[29.4,2.1],[29.9,2.01],[29.6,2.25],[28.9,2.45],[27.6,2.6],
[30.3,4.6],[30.6,4.15],[30.9,4.0],[31.2,4.5],[31.5,4.75],[31.8,4.25],[32.1,4.85],[32.4,4.65],[32.7,4.1],[33.0,4.4],[33.3,4.55],[33.6,3.95],[33.9,4.2],[34.2,4.05],[34.7,4.95],[35.0,4.7],[35.4,4.3],[35.8,4.0],[36.2,4.6],[36.6,4.45],[37.0,3.9],[37.4,4.75],[37.8,4.2],[38.2,4.6],[38.6,4.35],[39.0,4.55],[39.4,4.15],[39.8,4.4],[30.5,4.05],[31.0,4.2],
[30.5,3.05],[31.2,2.95],[32.3,3.22],[33.0,3.5],[34.0,3.3],[35.1,2.56],[35.5,3.45],[36.0,2.85],[36.4,3.55],[36.8,3.35],[37.2,2.75],[37.6,3.1],[38.0,2.8],[38.4,3.25],[38.8,2.35],[39.0,2.03],[39.4,2.9],[39.8,3.0],
[40.2,4.55],[40.5,4.25],[40.8,4.1],[41.1,4.65],[41.4,4.3],[41.7,4.0],[42.0,4.45],[42.3,3.95],[42.6,4.2],[43.1,4.93],[43.4,4.5],[43.7,4.35],[44.0,4.15],[44.3,4.6],[44.6,4.4],[44.9,3.8],[45.2,4.5],[45.5,4.25],[45.8,4.65],[46.1,4.35],[46.4,4.05],[46.7,4.55],[47.0,4.7],[47.3,3.85],[47.6,4.25],[47.9,4.4],[48.2,4.1],[48.5,3.95],[48.8,4.3],[49.1,3.7],[49.4,4.6],[49.7,4.0],[41.0,3.7],[43.0,3.85],[45.0,3.6],[47.0,3.55],
[40.3,2.95],[40.6,3.4],[41.0,2.8],[41.4,2.9],[41.8,2.48],[42.2,3.15],[42.6,2.7],[43.0,3.3],[43.5,2.64],[44.0,3.0],[44.4,2.56],[44.8,3.2],[45.2,3.35],[45.6,2.9],[46.0,3.1],[46.4,3.25],[46.8,2.75],[47.3,2.48],[47.6,2.6],[48.0,3.0],[48.5,3.15],[49.0,2.85],[49.5,3.05],[49.9,2.95],
[50.1,4.45],[50.4,4.2],[50.7,4.0],[51.0,4.3],[51.3,4.85],[51.6,4.1],[51.9,4.55],[52.2,4.35],[52.5,4.6],[52.8,4.45],[53.1,4.25],[53.4,4.5],[53.7,4.05],[54.0,4.4],[54.4,4.95],[54.7,4.3],[55.0,4.6],[55.3,4.15],[55.6,4.8],[55.9,3.9],[56.2,4.5],[56.5,4.35],[56.8,4.7],[57.1,4.1],[57.4,4.55],[57.7,4.25],[58.0,4.65],[58.3,4.0],[58.6,4.45],[58.9,4.3],[59.2,4.7],[59.5,4.15],[59.8,4.5],[50.5,3.8],[52.0,3.85],[53.5,3.6],[55.0,3.75],[56.5,3.9],[58.0,3.7],[59.5,3.85],[51.5,3.65],
[50.3,3.55],[50.7,3.35],[51.1,3.05],[51.5,2.85],[52.0,3.45],[52.4,3.2],[52.8,2.75],[53.2,3.1],[53.6,3.4],[54.0,2.95],[54.4,2.25],[54.8,3.25],[55.2,3.05],[55.6,3.55],[56.0,3.15],[56.4,3.35],[56.8,2.9],[57.2,3.1],[57.6,3.0],[58.0,3.25],[58.4,2.95],[58.8,3.15],[59.2,2.32],[59.6,3.05],[59.9,2.28],
[60.2,4.75],[60.5,4.1],[60.8,4.4],[61.1,3.95],[61.4,4.6],[61.7,4.2],[62.0,4.05],[62.3,4.35],[62.6,3.9],[62.9,4.15],[63.2,4.5],[63.5,4.0],[63.8,4.3],[64.1,4.7],[64.7,5.34],[65.0,4.4],[65.3,4.15],[65.6,4.55],[65.9,3.9],[66.2,4.3],[66.5,4.6],[66.8,4.1],[67.1,3.85],[67.4,4.45],[67.7,4.2],[68.0,4.55],[68.3,3.9],[68.7,4.91],[69.0,4.4],[69.3,4.25],[69.6,4.6],[69.9,4.0],[61.0,4.15],[62.0,4.25],[63.0,3.85],[64.0,4.2],[61.5,3.8],
[60.3,3.2],[60.6,2.9],[60.9,3.15],[61.2,2.95],[61.5,3.3],[61.8,2.85],[62.1,3.0],[62.4,3.55],[62.7,3.1],[63.0,2.9],[63.3,2.44],[63.6,2.36],[63.9,3.2],[64.2,2.95],[64.5,3.5],[64.8,3.05],[65.1,3.3],[65.4,2.85],[65.7,3.15],[66.0,3.0],[66.3,2.7],[66.6,3.1],[66.9,3.25],[67.2,2.9],[67.5,3.05],[67.8,3.55],[68.1,3.15],[68.4,2.0],[68.7,3.3],[69.0,2.95],[69.3,3.2],[69.6,3.45],[69.9,2.18],[65.0,2.6],[67.0,2.75],
[70.2,4.5],[70.5,4.3],[70.8,3.9],[71.1,4.55],[71.4,4.0],[71.8,2.25],[72.1,4.87],[72.4,3.85],[72.7,4.65],[73.0,3.8],[73.3,3.35],[73.6,3.4],[73.9,3.9],[74.2,3.05],[74.5,3.3],[74.8,3.9],[75.1,2.8],[75.4,4.1],[75.7,3.6],[76.0,3.85],[76.3,2.85],[76.6,4.5],[76.9,3.3],[77.2,2.7],[77.5,4.3],[77.8,3.05],[78.1,4.6],[78.4,3.2],[78.7,4.2],[79.0,2.75],[79.3,4.35],[79.6,2.55],[79.9,2.7],[70.0,3.6],[71.0,3.3],[72.0,2.95],[73.0,3.0],[74.0,2.85],[75.0,3.7],[71.5,3.1],[72.5,3.35],[73.5,3.25],
[80.3,3.89],[80.6,2.3],[81.0,2.97],[82.5,2.18],[82.9,2.65],[84.0,4.1],[84.2,3.69],[84.4,3.26],[87.7,2.68],[87.7,2.32],[87.7,2.13]
];

const gata6AfterPts = [
[2.5,1.7],[3.0,1.55],[3.4,1.75],[3.8,1.5],[4.2,1.85],[4.6,1.6],[5.0,1.5],[5.4,1.7],[5.8,1.95],[6.2,1.5],[6.6,1.4],[7.0,1.55],[7.4,1.65],[7.8,1.5],[8.2,1.45],[8.6,1.6],[9.0,1.5],[9.4,1.75],[9.8,1.55],[4.0,1.5],[6.0,1.8],[7.6,1.3],[8.8,1.4],[9.5,1.45],[7.2,1.5],[8.4,1.55],[9.9,1.35],[5.5,1.5],
[10.2,1.5],[10.5,1.4],[10.8,1.6],[11.1,1.45],[11.4,1.55],[11.7,1.35],[12.0,1.5],[12.3,1.65],[12.6,1.45],[12.9,1.3],[13.2,1.55],[13.5,1.2],[13.8,1.5],[14.1,1.4],[14.4,1.7],[14.7,1.35],[15.0,1.55],[15.3,1.45],[15.6,1.6],[15.9,1.3],[16.2,1.8],[16.5,1.5],[16.8,1.35],[17.1,1.6],[17.4,1.75],[17.7,1.45],[18.0,1.55],[18.3,1.85],[18.6,1.6],[18.9,1.4],[19.2,1.7],[19.5,1.55],[19.8,1.3],[11.0,1.6],[12.5,1.55],[14.0,1.55],[16.0,1.45],[17.0,1.4],[18.5,1.75],[13.0,1.45],[15.5,1.4],
[20.2,1.6],[20.5,1.45],[20.8,1.75],[21.1,1.55],[21.4,1.35],[21.7,1.65],[22.0,1.85],[22.3,1.5],[22.6,1.7],[22.9,1.3],[23.2,1.6],[23.5,1.8],[23.8,1.45],[24.1,1.55],[24.4,1.9],[24.7,1.65],[25.0,1.4],[25.3,1.75],[25.6,1.6],[25.9,1.25],[26.2,1.55],[26.6,1.7],[27.0,2.05],[27.4,1.5],[27.8,1.35],[28.2,1.65],[28.6,1.55],[29.0,1.3],[29.4,1.2],[29.8,1.6],[21.0,1.9],[23.0,1.4],[25.0,1.85],[27.0,1.15],
[30.3,1.75],[30.6,1.4],[30.9,2.05],[31.2,1.65],[31.5,1.3],[31.8,1.95],[32.1,1.6],[32.4,1.45],[32.7,1.75],[33.0,1.55],[33.3,1.85],[33.6,1.35],[33.9,1.7],[34.2,1.5],[34.5,1.9],[34.8,1.25],[35.1,1.6],[35.4,1.8],[35.7,1.45],[36.0,1.65],[36.3,1.9],[36.6,1.35],[36.9,1.55],[37.2,1.75],[37.5,1.4],[37.8,1.6],[38.1,1.3],[38.4,1.85],[38.7,1.5],[39.0,2.15],[39.4,1.45],[39.8,1.7],[31.0,1.5],[34.0,1.6],[36.5,1.6],
[40.2,1.55],[40.5,1.35],[40.8,1.7],[41.1,1.45],[41.4,1.6],[41.7,1.25],[42.0,1.5],[42.3,1.65],[42.6,1.4],[42.9,1.75],[43.2,1.3],[43.5,1.55],[43.8,1.9],[44.1,1.45],[44.4,1.6],[44.7,1.35],[45.0,1.7],[45.3,1.5],[45.6,1.25],[45.9,1.6],[46.2,1.45],[46.5,1.75],[46.8,1.35],[47.1,1.55],[47.4,1.65],[47.7,1.4],[48.0,1.8],[48.3,1.5],[48.6,1.3],[48.9,1.6],[49.2,1.7],[49.5,1.45],[49.8,1.55],[41.0,1.5],[43.0,1.6],[45.0,1.4],[47.0,1.25],
[50.2,1.6],[50.5,1.4],[50.8,1.75],[51.1,1.5],[51.4,1.3],[51.7,1.9],[52.0,1.55],[52.3,1.65],[52.6,1.45],[52.9,1.8],[53.2,1.35],[53.5,1.6],[53.8,1.5],[54.1,1.7],[54.4,1.25],[54.7,1.55],[55.0,1.85],[55.3,1.4],[55.6,1.65],[55.9,2.0],[56.2,1.5],[56.5,1.75],[56.8,1.35],[57.1,1.6],[57.4,2.2],[57.7,1.45],[58.0,1.7],[58.3,1.55],[58.6,1.3],[58.9,1.6],[59.2,1.4],[59.5,1.75],[59.8,1.5],[51.0,1.7],[53.0,1.5],[55.0,1.6],[57.0,1.45],[59.0,1.25],[58.5,1.85],[56.0,1.55],
[60.2,1.55],[60.5,1.35],[60.8,1.65],[61.1,1.2],[61.4,1.9],[61.7,1.5],[62.0,1.75],[62.3,1.4],[62.6,1.6],[62.9,1.3],[63.2,2.0],[63.5,1.55],[63.8,1.15],[64.1,1.7],[64.4,1.45],[64.7,1.85],[65.0,1.35],[65.3,1.6],[65.6,1.15],[65.9,1.75],[66.2,1.5],[66.5,1.3],[66.8,1.95],[67.1,1.45],[67.4,1.15],[67.7,1.65],[68.0,1.4],[68.3,1.8],[68.6,1.55],[68.9,1.25],[69.2,1.6],[69.5,1.45],[69.8,1.7],[60.0,1.8],[61.0,1.45],[62.0,1.3],[63.0,1.65],[64.0,1.25],[66.0,1.6],[67.5,2.1],[60.5,1.2],[61.5,1.6],[62.5,1.85],
[70.2,1.55],[70.5,1.2],[70.8,1.6],[71.1,1.45],[71.4,1.2],[71.7,1.65],[72.0,1.5],[72.3,1.99],[72.6,1.25],[72.9,1.8],[73.2,1.45],[73.5,1.9],[73.8,1.35],[74.1,2.06],[74.4,1.5],[74.7,1.25],[75.0,1.65],[75.3,1.45],[75.6,1.3],[75.9,1.72],[76.2,1.5],[76.5,1.35],[76.8,1.9],[77.1,1.4],[77.4,1.25],[77.7,1.6],[78.0,1.35],[78.2,1.75],[78.5,1.5],[78.9,1.05],[79.2,1.4],[79.6,1.92],[80.0,1.3],[80.3,1.45],[80.8,1.31],
[83.9,1.19],[87.6,1.74],
[4.6,2.63],[7.0,3.0],[20.3,2.19],[19.8,2.09],[10.7,2.29],[44.2,2.33],[44.4,2.02],[46.5,2.09],[56.4,2.36],[58.6,2.5],[57.9,2.36],[61.2,2.19],[61.9,2.06],[64.2,2.12],[65.6,2.06],[60.6,1.05],[61.2,1.01],[54.6,1.05],[49.8,1.15],[8.5,1.11],[15.0,1.11],[30.2,1.06],[39.1,1.06],[68.4,0.67],[69.9,0.93],
[2.5,3.8],[2.8,4.35],[3.1,4.45],[3.4,4.4],[3.7,3.75],[4.0,3.65],[4.3,4.45],[4.6,3.95],[4.9,3.85],[5.2,4.4],[5.5,3.65],[5.8,4.2],[6.1,4.05],[6.4,3.95],[6.7,3.75],[7.0,3.6],[7.3,3.9],[7.6,4.25],[7.9,4.35],[8.2,3.7],[8.5,3.55],[8.8,4.55],[9.1,3.65],[9.4,4.3],[9.6,4.52],[9.9,4.2],[3.0,3.7],[4.5,3.6],[6.0,3.85],[8.0,4.0],
[10.2,3.75],[10.5,4.15],[10.8,3.6],[11.1,3.27],[11.4,3.85],[11.7,4.05],[12.0,3.75],[12.3,3.9],[12.5,3.03],[12.8,3.8],[13.1,4.1],[13.4,3.7],[13.6,3.07],[13.9,4.2],[14.4,4.45],[14.7,3.9],[15.0,4.1],[15.5,4.15],[16.0,3.85],[16.5,3.85],[17.0,3.85],[17.5,3.65],[18.0,4.3],[18.5,3.7],[19.0,3.6],[19.5,3.85],[11.8,3.8],[12.2,3.85],
[20.5,4.1],[20.5,2.75],[21.0,4.2],[21.5,4.25],[22.0,3.7],[22.5,4.1],[22.9,4.59],[23.3,4.3],[23.7,4.45],[24.0,4.2],[24.5,3.8],[25.0,4.15],[25.5,4.25],[26.0,4.2],[26.4,4.45],[26.8,3.55],[27.2,4.3],[27.6,4.2],[28.0,4.1],[28.5,4.25],[29.0,3.65],[29.5,4.2],[30.0,4.15],[22.2,4.0],[24.8,4.35],[27.0,4.35],
[31.0,4.05],[32.0,4.0],[33.0,4.0],[34.2,3.95],[35.0,3.6],[35.5,4.1],[36.0,4.2],[36.4,3.4],[38.2,2.75],[38.5,4.4],[39.0,4.35],[39.5,4.1],[39.8,4.2],[37.0,4.05],
[40.2,4.25],[40.5,4.15],[41.0,4.2],[41.5,4.3],[42.0,4.2],[42.5,4.25],[43.0,4.2],[43.5,4.45],[44.0,4.2],[44.4,3.3],[44.5,4.2],[45.0,4.0],[45.7,4.45],[46.5,4.45],[47.0,4.0],[47.5,4.1],[48.0,4.0],[48.6,3.75],[49.2,4.3],[49.8,4.35],[50.2,3.85],[49.5,4.2],
[50.8,4.4],[51.3,2.75],[51.6,4.3],[52.0,3.9],[52.7,4.42],[53.0,4.25],[53.2,3.7],[53.5,3.8],[54.0,4.05],[54.5,4.35],[55.0,4.2],[55.4,3.9],[56.8,3.44],[58.0,4.2],[58.5,4.1],[59.0,3.9],[59.5,3.55],[59.8,3.8],
[60.2,3.5],[60.6,4.05],[61.0,3.75],[61.4,3.7],[61.8,3.75],[62.2,4.3],[62.6,3.9],[63.0,3.6],[63.4,3.5],[63.8,3.75],[64.3,3.05],[64.7,2.7],[65.0,3.95],[65.3,4.1],[65.6,2.36],[65.9,3.75],[66.2,4.0],[66.5,4.35],[66.8,3.6],[67.1,2.9],[67.4,4.2],[67.7,4.1],[68.0,3.85],[68.3,4.2],[68.6,2.87],[68.9,2.58],[69.2,3.65],[69.5,3.85],[69.8,4.0],[66.0,3.2],[67.0,3.55],
[70.4,2.41],[70.8,4.38],[71.1,3.8],[71.4,3.95],[71.7,3.6],[72.0,4.1],[72.3,3.75],[72.6,4.0],[73.0,3.85],[73.3,3.45],[73.6,3.9],[74.0,3.95],[74.5,3.5],[75.0,4.25],[76.5,2.63],[77.0,3.9],[78.8,3.27],[79.2,3.6],[79.8,3.8],
[80.2,4.5],[80.8,3.75],[81.5,3.7],[82.4,3.7],[83.0,3.41],[84.0,3.7],[84.4,3.24],[87.4,3.74],[87.6,3.9]
];

// ---------- LAYOUT ----------
const BLUE = "#5e81b5", AXIS = "#8e8e8e", LABEL = "#6e6e6e";
const svg = d3.select("#c");
const f1 = d3.format(".1f"), f0 = d3.format("d");

const panels = [
  {pts: dapiBeforePts, fit: dapiBeforeFit, title: panelTitles[0], xd:[1.4,89.4], xr:[99,482], yd:[2.78,5.52], yr:[319,83.3], xAxisAt:2.78, yMajor:yTicksDapiBefore, yStep:0.1, fmt:f1, ps:1.8, lw:3, tx:287, ty:62, pad:8, xpad:12},
  {pts: nanogBeforePts, fit: nanogBeforeFit, title: panelTitles[1], xd:[0.9,90], xr:[532,933], yd:[-0.04,5.24], yr:[316.8,74], xAxisAt:-0.04, yMajor:yTicksNanog, yStep:0.2, fmt:f0, ps:3.2, lw:2.6, tx:728, ty:62, pad:9, xpad:12},
  {pts: gata6BeforePts, fit: gata6BeforeFit, title: panelTitles[2], xd:[2,89.7], xr:[983,1385], yd:[-0.3,4.62], yr:[324.9,81.3], xAxisAt:0, yMajor:yTicksGata6, yStep:0.2, fmt:f0, ps:3.2, lw:2.6, tx:1181, ty:70, pad:10, xpad:12},
  {pts: dapiAfterPts, fit: null, title: panelTitles[0], xd:[1.75,89.7], xr:[99,474.5], yd:[3.28,5.75], yr:[757.5,527.8], xAxisAt:3.28, yMajor:yTicksDapiAfter, yStep:0.1, fmt:f1, ps:1.8, lw:0, tx:284, ty:517, pad:8, xpad:9},
  {pts: nanogAfterPts, fit: null, title: panelTitles[1], xd:[1.8,89.5], xr:[525,920], yd:[0,5.55], yr:[759,522.6], xAxisAt:0, yMajor:yTicksNanog, yStep:0.2, fmt:f0, ps:3.2, lw:0, tx:719, ty:512, pad:9, xpad:8},
  {pts: gata6AfterPts, fit: null, title: panelTitles[2], xd:[2.4,89.6], xr:[971,1365], yd:[0,4.8], yr:[758.5,522], xAxisAt:0, yMajor:yTicksGata6, yStep:0.2, fmt:f0, ps:3.2, lw:0, tx:1165, ty:512, pad:10, xpad:8}
];

function minorValues(lo, hi, step, majors) {
  const out = [];
  const i0 = Math.ceil(lo / step - 1e-9), i1 = Math.floor(hi / step + 1e-9);
  for (let i = i0; i <= i1; i++) {
    const v = +(i * step).toFixed(3);
    if (!majors.some(m => Math.abs(m - v) < 1e-6)) out.push(v);
  }
  return out;
}

function styleAxis(g, fs) {
  g.selectAll(".domain").attr("stroke", AXIS).attr("stroke-width", 1.4);
  g.selectAll(".tick line").attr("stroke", AXIS).attr("stroke-width", 1.2);
  g.selectAll(".tick text").attr("fill", LABEL).style("font-size", fs + "px").style("font-family", '"Liberation Sans", Arial, sans-serif');
}

panels.forEach(p => {
  const x = d3.scaleLinear().domain(p.xd).range(p.xr);
  const y = d3.scaleLinear().domain(p.yd).range(p.yr);
  const g = svg.append("g");
  const x0 = p.xr[0], yAx = y(p.xAxisAt);

  const xMinor = minorValues(p.xd[0], p.xd[1], 5, xTickValues);
  const gxm = g.append("g").attr("transform", `translate(0,${yAx})`)
    .call(d3.axisBottom(x).tickValues(xMinor).tickSize(-3.5).tickSizeOuter(0).tickFormat(""));
  gxm.select(".domain").remove();
  const gx = g.append("g").attr("transform", `translate(0,${yAx})`)
    .call(d3.axisBottom(x).tickValues(xTickValues).tickSize(-6).tickSizeOuter(0).tickPadding(p.xpad).tickFormat(f0));
  styleAxis(gxm, 22); styleAxis(gx, 22);

  const yMinor = minorValues(p.yd[0], p.yd[1], p.yStep, p.yMajor);
  const gym = g.append("g").attr("transform", `translate(${x0},0)`)
    .call(d3.axisLeft(y).tickValues(yMinor).tickSize(-3.5).tickSizeOuter(0).tickFormat(""));
  gym.select(".domain").remove();
  const gy = g.append("g").attr("transform", `translate(${x0},0)`)
    .call(d3.axisLeft(y).tickValues(p.yMajor).tickSize(-6).tickSizeOuter(0).tickPadding(p.pad).tickFormat(p.fmt));
  styleAxis(gym, 22); styleAxis(gy, 22);

  g.append("g").selectAll("rect").data(p.pts).join("rect")
    .attr("x", d => x(d[0]) - p.ps / 2).attr("y", d => y(d[1]) - p.ps / 2)
    .attr("width", p.ps).attr("height", p.ps).attr("fill", BLUE);

  if (p.fit) {
    g.append("path").datum(p.fit)
      .attr("d", d3.line().x(d => x(d[0])).y(d => y(d[1])))
      .attr("stroke", "#6385bb").attr("stroke-width", p.lw).attr("fill", "none");
  }

  svg.append("text").attr("x", p.tx).attr("y", p.ty).attr("text-anchor", "middle")
    .attr("fill", "#686868").style("font-size", "27px").text(p.title);
});

svg.append("text").attr("x", 14).attr("y", 48).style("font-size", "47px").style("font-weight", "bold").attr("fill", "#000").text("a");
svg.append("text").attr("x", 14).attr("y", 520).style("font-size", "47px").style("font-weight", "bold").attr("fill", "#000").text("b");

const commaPos = [[486,201],[938,201],[480,650],[925,650],[1370,650]];
svg.append("g").selectAll("text").data(commaPos).join("text")
  .attr("x", d => d[0]).attr("y", d => d[1])
  .style("font-size", "26px").style("font-weight", "bold").attr("fill", "#111").text(",");

function brace(top, bot, xr, xl) {
  const m = (top + bot) / 2;
  return `M${xr},${top} Q${xl+1},${top} ${xl+1},${top+6} L${xl+1},${m-5} Q${xl+1},${m} ${xl-3},${m} Q${xl+1},${m} ${xl+1},${m+5} L${xl+1},${bot-6} Q${xl+1},${bot} ${xr},${bot}`;
}
svg.append("path").attr("d", brace(167, 222, 56, 50)).attr("stroke", "#d9ae72").attr("stroke-width", 1.3).attr("fill", "none");
svg.append("path").attr("d", brace(613, 670, 57, 51)).attr("stroke", "#d9ae72").attr("stroke-width", 1.3).attr("fill", "none");

const arrowX = [452.5, 543.5, 876, 968];
const ag = svg.append("g");
arrowX.forEach(cx => {
  ag.append("rect").attr("x", cx - 3.3).attr("y", 380).attr("width", 6.6).attr("height", 51).attr("fill", "#000");
  ag.append("path").attr("d", `M${cx-14.5},429 L${cx+14.5},429 L${cx},466 Z`).attr("fill", "#000");
});
svg.append("text").attr("x", 588).attr("y", 442).style("font-size", "44px").style("font-weight", "bold")
  .attr("textLength", 244).attr("lengthAdjust", "spacingAndGlyphs").attr("fill", "#000").text("Z- correction");
</script>
</body></html>
